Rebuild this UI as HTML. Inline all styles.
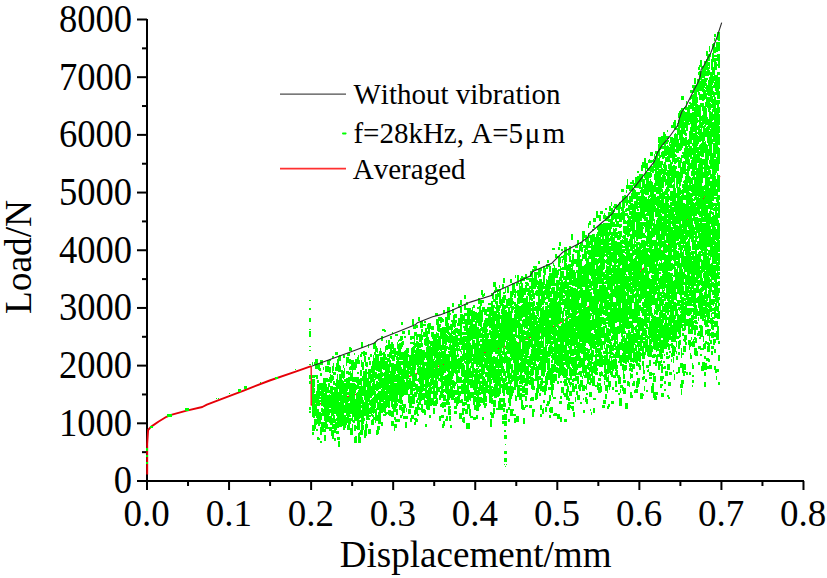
<!DOCTYPE html>
<html><head><meta charset="utf-8"><title>Load-Displacement</title>
<style>html,body{margin:0;padding:0;background:#fff;overflow:hidden}svg{display:block}text{font-family:"Liberation Serif",serif;fill:#000}</style></head>
<body>
<svg width="827" height="578" viewBox="0 0 827 578">
<rect width="827" height="578" fill="#fff"/>
<g fill="#000" shape-rendering="crispEdges">
<rect x="146" y="19" width="2" height="463"/>
<rect x="137" y="480" width="667" height="2"/>
</g><g fill="#000"><rect x="137" y="480.00" width="10" height="2"/><rect x="142" y="451.16" width="5" height="2"/><rect x="137" y="422.31" width="10" height="2"/><rect x="142" y="393.47" width="5" height="2"/><rect x="137" y="364.62" width="10" height="2"/><rect x="142" y="335.79" width="5" height="2"/><rect x="137" y="306.94" width="10" height="2"/><rect x="142" y="278.10" width="5" height="2"/><rect x="137" y="249.25" width="10" height="2"/><rect x="142" y="220.41" width="5" height="2"/><rect x="137" y="191.56" width="10" height="2"/><rect x="142" y="162.72" width="5" height="2"/><rect x="137" y="133.88" width="10" height="2"/><rect x="142" y="105.03" width="5" height="2"/><rect x="137" y="76.19" width="10" height="2"/><rect x="142" y="47.35" width="5" height="2"/><rect x="137" y="18.50" width="10" height="2"/></g><g fill="#000" shape-rendering="crispEdges"></g><g fill="#000"><rect x="146.00" y="481" width="2" height="9"/><rect x="187.03" y="481" width="2" height="5"/><rect x="228.06" y="481" width="2" height="9"/><rect x="269.09" y="481" width="2" height="5"/><rect x="310.12" y="481" width="2" height="9"/><rect x="351.15" y="481" width="2" height="5"/><rect x="392.18" y="481" width="2" height="9"/><rect x="433.21" y="481" width="2" height="5"/><rect x="474.24" y="481" width="2" height="9"/><rect x="515.27" y="481" width="2" height="5"/><rect x="556.30" y="481" width="2" height="9"/><rect x="597.33" y="481" width="2" height="5"/><rect x="638.36" y="481" width="2" height="9"/><rect x="679.39" y="481" width="2" height="5"/><rect x="720.42" y="481" width="2" height="9"/><rect x="761.45" y="481" width="2" height="5"/><rect x="802.48" y="481" width="2" height="9"/>
</g>
<polyline points="311.2,366.2 311.2,405.0 322.7,403.5 364.8,391.9 381.0,386.0 448.0,363.0 519.0,342.6 556.7,325.0 565.0,320.0 591.0,305.4 603.3,299.0 637.0,274.2 649.0,263.8 666.5,247.5 691.5,215.0 720.0,176.0" fill="none" stroke="#f01818" stroke-width="1.4" stroke-linejoin="round"/>
<polyline points="147.2,474.5 147.2,444.0 148.1,430.0 150.9,426.9 158.7,421.5 166.5,416.8 171.1,414.9 186.7,410.6 202.3,407.0 206.9,404.6 220.0,399.7 243.7,390.6 269.7,380.5 295.6,371.6 311.2,366.2" fill="none" stroke="#e60008" stroke-width="1.9" stroke-linejoin="round"/>
<g transform="translate(0.5,0)"><path d="M146 448v3M146 455v2M146 462v2M147 448v3M147 455v2M147 462v2M150 426v2M151 426v2M152 426v2M167 414v3M168 414v3M169 414v3M170 414v3M171 414v3M185 408v3M186 408v3M187 408v3M188 408v3M216 398v1M218 398v1M229 393v1M238 389v3M239 389v3M240 389v3M244 386v3M245 386v3M246 386v3M260 382v1M275 377v2M276 377v2M277 377v2M295 369v1M309 300v1M309 308v2M309 318v4M309 329v1M309 331v6M309 346v1M309 350v1M309 364v1M309 375v4M309 381v3M309 407v3M309 411v2M310 300v1M310 308v2M310 318v4M310 329v1M310 331v6M310 346v1M310 350v1M310 364v1M310 375v4M310 381v3M310 407v3M310 411v2M312 362v3M312 375v3M312 379v38M312 425v6M312 432v3M313 375v3M313 379v39M313 425v6M313 432v3M314 362v3M314 375v3M314 379v8M314 388v5M314 394v24M314 419v12M315 359v10M315 375v2M315 394v9M315 404v12M315 419v10M316 359v10M316 375v4M316 391v27M316 419v6M316 429v2M317 359v10M317 375v4M317 380v3M317 384v22M317 409v15M317 429v2M317 437v3M318 364v6M318 380v3M318 384v22M318 409v17M318 437v3M319 364v7M319 383v16M319 400v6M319 412v14M319 438v2M320 360v5M320 368v3M320 373v3M320 383v7M320 391v5M320 397v2M320 400v2M320 412v12M320 427v8M320 441v2M321 360v5M321 373v3M321 383v23M321 408v4M321 413v7M321 422v13M321 441v2M322 360v5M322 383v23M322 408v8M322 422v10M323 367v3M323 378v29M323 409v7M323 422v10M324 378v14M324 393v28M324 422v6M324 429v3M324 435v6M325 366v6M325 378v54M325 435v6M326 366v6M326 378v4M326 384v45M327 360v5M327 366v6M327 378v4M327 387v6M327 395v27M327 424v5M328 360v5M328 366v6M328 379v3M328 383v10M328 395v27M328 427v2M329 359v6M329 367v6M329 377v5M329 383v4M329 390v3M329 394v14M329 409v6M329 416v7M329 427v4M330 359v2M330 367v6M330 374v9M330 386v8M330 395v13M330 409v4M330 416v9M330 427v4M331 375v8M331 386v39M331 427v9M332 356v2M332 366v7M332 375v6M332 386v30M332 418v11M332 430v9M333 356v2M333 363v8M333 372v3M333 376v4M333 381v4M333 387v3M333 392v31M333 424v5M333 430v9M334 372v3M334 381v4M334 387v27M334 415v8M334 424v9M334 438v3M335 352v3M335 367v4M335 372v3M335 383v3M335 387v27M335 419v14M335 438v3M336 352v3M336 363v8M336 379v37M336 418v3M336 422v8M336 431v3M337 352v3M337 359v12M337 374v54M337 431v3M337 437v3M338 356v16M338 380v9M338 392v36M338 431v3M338 437v3M338 441v6M339 355v6M339 365v7M339 374v27M339 402v25M339 437v3M339 441v6M340 356v5M340 366v6M340 374v53M341 370v57M342 370v8M342 380v14M342 395v31M343 355v3M343 365v3M343 371v8M343 381v49M344 355v3M344 368v10M344 379v3M344 383v20M344 405v8M344 415v15M345 379v3M345 383v30M345 415v13M346 357v9M346 371v3M346 378v38M346 417v8M347 353v3M347 357v6M347 371v3M347 378v13M347 392v3M347 397v26M347 425v5M348 353v3M348 357v6M348 371v4M348 377v12M348 392v3M348 397v5M348 403v27M349 347v4M349 353v3M349 359v5M349 367v3M349 372v3M349 377v24M349 403v14M349 418v12M350 347v4M350 359v5M350 366v4M350 371v10M350 383v31M350 415v2M350 418v6M350 428v7M351 348v3M351 360v10M351 373v8M351 383v31M351 418v3M351 428v7M352 360v22M352 383v39M352 424v11M353 360v10M353 377v5M353 383v34M353 420v3M354 353v2M354 362v8M354 377v5M354 383v40M354 425v6M354 437v6M355 359v11M355 377v5M355 384v9M355 399v22M355 425v6M355 436v7M356 359v9M356 377v6M356 385v5M356 393v28M356 426v3M356 436v7M357 357v7M357 372v2M357 377v12M357 392v38M358 355v9M358 372v2M358 377v12M358 390v40M358 433v10M359 360v4M359 379v6M359 386v33M359 420v10M359 432v11M360 354v3M360 370v6M360 378v7M360 386v32M360 420v2M360 430v5M360 437v6M361 342v6M361 352v5M361 360v7M361 370v6M361 378v26M361 405v3M361 410v25M362 342v6M362 352v2M362 362v8M362 376v5M362 386v10M362 397v38M363 351v5M363 362v8M363 371v25M363 400v24M363 425v5M364 351v11M364 371v29M364 402v14M364 418v3M364 430v8M365 352v3M365 356v10M365 369v47M365 424v14M366 352v3M366 362v5M366 369v18M366 390v30M366 421v15M367 362v5M367 372v2M367 378v42M367 424v4M368 344v4M368 357v3M368 369v33M368 403v17M368 429v5M369 357v3M369 361v4M369 369v10M369 381v24M369 408v6M369 415v2M369 418v2M369 429v5M370 354v3M370 361v4M370 369v29M370 400v6M370 407v7M370 415v2M370 429v5M371 354v3M371 366v7M371 374v9M371 386v12M371 399v17M371 420v5M372 361v21M372 383v13M372 398v15M372 414v3M372 419v6M373 344v5M373 355v40M373 397v17M373 415v10M374 342v7M374 352v3M374 358v20M374 379v34M374 417v3M375 342v28M375 372v8M375 384v6M375 391v17M375 409v14M376 346v6M376 354v17M376 372v7M376 381v10M376 394v9M376 408v13M376 430v5M377 348v5M377 354v17M377 374v5M377 381v10M377 393v17M377 415v6M377 426v9M378 354v18M378 373v8M378 382v8M378 391v9M378 402v8M378 412v12M378 426v8M379 351v5M379 361v11M379 373v16M379 391v33M379 426v4M380 348v8M380 357v32M380 391v33M381 336v5M381 351v5M381 357v31M381 389v13M381 403v10M381 422v4M382 329v2M382 336v5M382 353v2M382 357v12M382 372v5M382 378v24M382 403v10M382 422v4M383 329v2M383 352v18M383 373v3M383 378v34M383 414v2M384 329v3M384 352v18M384 372v28M384 401v12M384 414v2M385 330v2M385 346v6M385 354v6M385 361v29M385 391v25M386 340v3M386 345v5M386 357v3M386 361v47M386 412v3M387 345v5M387 354v3M387 358v49M387 412v2M388 340v9M388 354v3M388 358v4M388 364v30M388 395v13M388 410v5M389 340v9M389 352v21M389 374v10M389 385v23M389 410v6M390 336v3M390 344v14M390 360v7M390 371v30M390 410v6M391 336v3M391 342v17M391 363v44M391 411v6M391 421v5M392 332v2M392 342v7M392 350v4M392 355v6M392 363v46M392 411v6M392 421v5M393 344v10M393 355v6M393 363v39M393 404v13M393 421v5M394 348v13M394 364v18M394 383v29M394 417v3M394 424v7M395 334v2M395 348v9M395 364v10M395 375v7M395 383v29M395 417v5M395 424v4M396 334v2M396 351v4M396 356v4M396 361v10M396 374v8M396 383v25M396 409v6M396 419v3M396 424v4M397 334v2M397 342v7M397 351v22M397 374v28M397 403v3M397 409v6M397 419v3M398 340v2M398 344v12M398 357v38M398 399v4M398 419v3M399 339v2M399 343v17M399 361v42M399 405v5M399 419v3M400 336v5M400 343v17M400 361v14M400 376v28M400 405v5M400 415v3M401 322v3M401 336v5M401 342v7M401 352v8M401 361v4M401 367v37M401 405v6M401 415v3M402 322v3M402 331v3M402 336v4M402 341v6M402 352v8M402 361v4M402 369v28M402 400v6M402 407v9M403 331v3M403 341v4M403 352v44M403 404v9M403 416v3M404 331v3M404 336v2M404 351v28M404 380v15M404 404v9M404 416v3M405 336v2M405 350v29M405 382v13M405 404v4M405 416v3M405 422v6M406 348v20M406 370v25M406 408v4M406 416v3M406 422v6M407 348v47M407 416v3M408 330v5M408 348v5M408 354v3M408 361v18M408 380v10M408 394v9M408 409v5M409 330v5M409 355v15M409 371v3M409 378v11M409 394v14M409 409v5M410 336v4M410 342v2M410 355v21M410 378v17M410 396v12M410 409v5M410 418v4M411 336v4M411 342v2M411 348v18M411 367v9M411 381v14M411 396v12M411 415v7M412 319v6M412 336v3M412 342v2M412 347v57M412 406v2M412 415v4M413 319v6M413 326v3M413 336v3M413 342v3M413 346v41M413 388v3M413 394v10M413 406v2M413 415v4M414 326v3M414 332v21M414 354v33M414 388v3M414 392v12M414 410v5M414 418v2M414 422v3M415 325v4M415 332v4M415 343v5M415 350v20M415 374v7M415 383v7M415 392v5M415 407v8M415 418v7M416 325v3M416 332v8M416 341v6M416 348v17M416 374v7M416 384v13M416 400v3M416 407v7M416 418v4M417 325v3M417 334v6M417 341v26M417 368v6M417 379v2M417 384v10M417 398v5M417 404v12M417 419v3M418 317v4M418 334v3M418 342v33M418 378v4M418 386v6M418 393v7M418 402v8M418 414v2M419 317v4M419 334v8M419 343v5M419 349v16M419 366v18M419 386v19M419 407v3M420 321v7M420 334v8M420 343v5M420 349v56M420 408v2M421 321v7M421 329v18M421 349v16M421 367v34M421 404v8M422 321v7M422 329v3M422 335v5M422 343v4M422 350v42M422 393v7M422 404v9M423 324v2M423 332v5M423 350v41M423 393v7M423 409v4M424 321v2M424 324v2M424 332v5M424 339v6M424 350v10M424 362v18M424 384v3M424 388v3M424 393v12M424 409v6M425 321v2M425 324v2M425 328v9M425 338v8M425 352v6M425 362v4M425 368v30M425 400v5M425 410v5M425 424v3M426 328v18M426 347v13M426 362v37M426 400v9M426 424v3M427 324v5M427 331v57M427 390v20M428 323v11M428 337v50M428 388v22M429 323v11M429 340v4M429 346v33M429 382v28M429 415v3M430 323v6M430 341v37M430 379v27M430 415v3M431 326v4M431 332v5M431 341v5M431 347v39M431 387v7M431 398v8M432 326v4M432 332v7M432 341v44M432 386v3M432 391v3M432 398v7M433 326v4M433 332v24M433 359v47M433 408v6M434 334v26M434 361v7M434 369v9M434 380v19M434 401v5M434 408v6M435 313v3M435 334v24M435 360v28M435 391v8M435 400v6M436 313v3M436 319v6M436 332v74M437 313v3M437 319v12M437 333v5M437 339v40M437 381v14M437 398v6M438 317v15M438 333v18M438 352v13M438 368v13M438 387v5M439 317v4M439 324v8M439 336v14M439 351v25M439 378v3M439 387v5M439 395v5M439 416v5M440 317v6M440 324v3M440 328v23M440 352v30M440 386v3M440 391v9M440 404v3M440 416v5M441 317v6M441 328v11M441 345v13M441 359v39M441 403v4M441 415v3M442 318v4M442 327v23M442 351v47M442 402v6M442 415v3M442 424v4M443 310v4M443 319v3M443 327v23M443 351v13M443 365v10M443 376v4M443 381v7M443 389v4M443 394v7M443 402v6M443 415v3M443 421v7M444 310v4M444 327v17M444 345v28M444 376v10M444 389v3M444 395v6M444 402v5M444 409v3M444 421v5M445 317v9M445 327v46M445 375v18M445 395v6M445 402v5M445 409v3M445 419v2M446 317v16M446 334v11M446 346v5M446 354v17M446 375v19M446 399v6M446 416v5M447 307v27M447 335v7M447 346v3M447 354v18M447 374v31M447 416v5M448 307v13M448 323v12M448 336v7M448 347v3M448 351v2M448 354v51M448 406v9M449 307v13M449 326v4M449 332v11M449 344v6M449 351v35M449 389v11M449 402v3M449 406v9M449 416v5M450 313v2M450 324v6M450 333v24M450 361v8M450 371v27M450 406v2M450 409v6M450 416v5M450 425v3M451 320v2M451 324v19M451 345v40M451 386v14M451 425v3M452 303v4M452 309v4M452 320v10M452 331v3M452 335v44M452 380v20M453 303v4M453 309v4M453 315v12M453 330v5M453 336v40M453 380v8M453 390v10M454 314v14M454 329v6M454 336v37M454 381v8M454 390v7M454 398v5M454 406v3M454 411v3M455 314v4M455 320v7M455 328v19M455 348v26M455 382v4M455 390v5M455 397v6M455 406v3M455 411v3M456 314v4M456 320v3M456 328v5M456 335v16M456 355v29M456 390v5M456 397v12M456 411v3M457 323v3M457 328v6M457 335v22M457 359v10M457 370v13M457 384v11M457 396v10M458 304v4M458 318v8M458 329v7M458 338v3M458 342v5M458 348v3M458 354v3M458 358v15M458 376v7M458 386v18M459 304v4M459 318v8M459 329v7M459 338v7M459 346v5M459 358v15M459 377v6M459 386v3M459 391v12M459 413v6M460 300v5M460 307v6M460 314v31M460 349v3M460 356v13M460 377v6M460 386v3M460 391v5M460 400v3M460 413v6M461 300v5M461 307v6M461 314v31M461 346v4M461 351v3M461 356v20M461 377v6M461 384v10M461 399v4M461 413v6M462 314v10M462 332v3M462 337v13M462 354v8M462 363v14M462 380v3M462 384v10M462 399v7M462 408v7M462 418v4M463 315v6M463 322v2M463 326v2M463 332v3M463 336v25M463 363v14M463 379v15M463 402v4M463 408v7M463 417v6M464 295v4M464 304v6M464 313v11M464 326v5M464 332v3M464 336v27M464 365v36M464 402v4M464 408v3M464 417v6M465 295v4M465 304v6M465 313v3M465 319v12M465 332v3M465 336v6M465 343v7M465 353v7M465 361v3M465 370v31M465 402v3M465 409v5M466 302v3M466 308v2M466 313v3M466 319v16M466 336v47M466 385v9M466 396v9M466 409v5M466 423v6M467 302v3M467 308v94M467 404v10M467 423v6M468 308v17M468 328v74M468 404v5M468 423v6M469 308v17M469 326v38M469 368v10M469 379v6M469 390v10M469 404v12M469 423v6M470 308v8M470 319v22M470 343v20M470 366v12M470 379v9M470 392v9M470 409v9M471 310v30M471 345v23M471 371v7M471 379v9M471 392v6M471 416v2M472 307v50M472 358v3M472 362v26M472 392v6M472 416v2M473 305v3M473 311v11M473 324v15M473 340v9M473 354v23M473 380v10M473 392v13M473 417v3M474 305v3M474 311v11M474 324v15M474 340v24M474 368v5M474 374v21M474 396v14M474 417v3M475 312v8M475 321v18M475 343v21M475 369v26M475 396v6M475 405v5M475 417v3M476 312v55M476 368v28M476 397v14M476 415v4M477 307v2M477 313v10M477 327v40M477 368v21M477 390v21M477 415v4M478 298v6M478 307v2M478 312v14M478 327v38M478 366v3M478 370v3M478 374v10M478 387v24M479 298v6M479 306v20M479 329v9M479 341v5M479 348v19M479 369v26M479 397v10M480 300v27M480 328v10M480 339v3M480 344v23M480 369v3M480 373v6M480 381v10M480 392v3M480 397v6M480 404v2M481 290v5M481 300v6M481 310v21M481 333v5M481 339v3M481 344v35M481 381v3M481 385v9M481 397v6M482 290v7M482 300v3M482 307v15M482 327v67M482 398v5M482 417v3M483 294v3M483 300v3M483 307v5M483 323v10M483 334v28M483 364v11M483 376v29M483 417v3M484 293v3M484 307v8M484 320v18M484 339v13M484 353v3M484 357v17M484 377v9M484 387v21M485 309v6M485 318v34M485 353v4M485 358v10M485 372v5M485 379v23M485 403v5M486 309v7M486 318v52M486 372v5M486 381v12M486 396v6M486 403v3M487 307v5M487 314v2M487 318v9M487 329v3M487 333v38M487 372v21M488 303v2M488 307v5M488 314v12M488 333v5M488 339v25M488 365v17M488 385v3M488 389v5M489 303v2M489 307v21M489 330v5M489 339v64M490 303v2M490 307v21M490 330v8M490 339v64M490 412v3M490 419v8M491 293v3M491 301v15M491 317v13M491 331v47M491 379v5M491 386v18M491 412v6M491 419v8M492 293v6M492 301v53M492 357v23M492 386v2M492 389v8M492 398v6M492 413v5M493 282v5M493 293v9M493 305v47M493 356v27M493 387v9M493 400v7M493 408v10M494 282v5M494 290v3M494 299v3M494 305v3M494 311v41M494 356v8M494 366v17M494 384v14M494 400v7M494 408v6M495 282v11M495 294v10M495 307v2M495 311v10M495 324v30M495 357v41M495 400v7M496 287v4M496 294v6M496 301v38M496 340v14M496 357v11M496 369v29M496 408v2M497 289v11M497 301v12M497 314v24M497 340v14M497 355v13M497 369v28M497 408v2M498 289v3M498 293v4M498 305v24M498 330v18M498 349v7M498 359v27M498 388v9M498 401v9M499 285v3M499 289v15M499 305v6M499 312v20M499 333v35M499 369v27M499 398v12M500 289v19M500 315v4M500 323v45M500 369v7M500 377v17M500 398v12M501 299v7M501 309v5M501 315v38M501 354v27M501 384v4M501 398v4M501 404v6M502 284v4M502 297v51M502 351v4M502 356v17M502 376v7M502 384v9M502 398v4M502 404v6M502 415v5M502 421v3M503 278v5M503 284v4M503 292v2M503 295v8M503 304v51M503 357v6M503 366v10M503 378v18M503 398v9M503 408v4M503 415v5M503 421v3M504 278v5M504 292v2M504 295v8M504 305v41M504 348v16M504 369v7M504 378v18M504 398v9M504 408v4M504 414v6M504 421v5M504 430v2M504 435v4M504 451v3M504 458v4M504 464v1M505 288v5M505 295v5M505 305v4M505 310v32M505 346v3M505 352v11M505 371v11M505 383v7M505 403v4M505 414v6M505 421v5M505 430v2M505 435v4M505 444v1M505 451v3M505 458v4M505 466v1M506 299v9M506 310v30M506 341v9M506 351v22M506 376v5M506 382v12M506 409v4M506 414v6M506 421v5M506 435v4M506 451v3M506 458v4M506 464v1M507 287v6M507 299v9M507 312v42M507 356v22M507 382v13M507 409v4M508 287v6M508 298v8M508 307v34M508 342v12M508 357v27M508 386v9M508 398v5M508 407v3M508 419v3M509 298v8M509 307v47M509 357v27M509 386v20M509 407v3M509 419v3M510 279v4M510 291v17M510 311v46M510 358v11M510 373v6M510 380v26M510 409v7M511 279v4M511 291v70M511 364v20M511 386v13M511 409v7M512 283v14M512 298v7M512 306v7M512 318v42M512 364v9M512 375v7M512 386v10M512 409v7M513 283v12M513 301v3M513 306v4M513 318v14M513 334v29M513 370v11M513 387v6M513 409v2M513 414v2M514 283v10M514 294v4M514 302v4M514 307v2M514 310v3M514 314v18M514 334v56M514 414v2M514 418v5M515 275v3M515 289v9M515 302v35M515 338v52M515 395v6M515 414v2M515 418v5M516 283v3M516 291v2M516 304v34M516 341v46M516 396v5M516 416v6M517 275v6M517 282v4M517 290v6M517 298v21M517 320v8M517 335v3M517 342v33M517 376v21M517 416v6M518 275v6M518 282v2M518 290v14M518 305v34M518 343v32M518 376v5M518 385v12M518 416v6M519 283v21M519 306v54M519 363v9M519 375v5M519 381v3M519 385v15M520 278v6M520 286v17M520 306v15M520 323v11M520 335v26M520 362v22M520 385v2M520 388v3M520 393v7M521 276v27M521 305v16M521 324v18M521 349v35M521 385v2M521 388v3M521 393v16M522 276v5M522 283v20M522 304v14M522 320v53M522 375v10M522 386v7M522 394v3M522 400v10M523 277v4M523 288v9M523 298v19M523 319v8M523 330v27M523 358v14M523 375v8M523 386v7M523 394v3M523 405v5M523 418v6M524 277v4M524 288v7M524 298v19M524 319v10M524 330v5M524 336v18M524 355v19M524 375v8M524 384v9M524 394v3M524 407v3M524 418v6M525 274v5M525 282v2M525 285v10M525 298v30M525 331v4M525 336v4M525 341v34M525 378v8M525 388v7M525 396v5M525 405v3M526 274v6M526 282v10M526 296v33M526 331v8M526 341v23M526 366v20M526 388v7M526 396v5M526 405v2M527 278v2M527 282v4M527 288v4M527 293v2M527 296v33M527 330v10M527 341v17M527 359v6M527 366v20M527 388v7M527 405v2M528 278v2M528 283v3M528 288v8M528 302v13M528 316v10M528 328v27M528 356v2M528 359v25M529 278v4M529 286v45M529 332v5M529 338v11M529 356v11M529 371v4M529 376v3M529 380v5M529 405v3M530 271v6M530 278v4M530 286v3M530 290v10M530 302v35M530 339v8M530 354v14M530 369v16M530 398v3M530 405v3M531 271v6M531 278v15M531 294v7M531 302v5M531 308v3M531 313v35M531 349v16M531 366v10M531 377v12M531 397v4M531 405v3M532 269v28M532 298v3M532 302v18M532 321v44M532 366v10M532 377v13M532 397v4M532 409v8M533 266v2M533 269v3M533 278v11M533 290v9M533 301v40M533 344v17M533 362v13M533 378v12M533 397v4M533 409v8M534 266v4M534 272v17M534 293v6M534 301v5M534 307v4M534 312v58M534 379v2M534 386v4M534 409v3M535 266v4M535 272v17M535 291v4M535 306v5M535 315v10M535 326v40M535 367v14M535 393v7M536 266v4M536 272v15M536 290v6M536 302v3M536 306v8M536 315v32M536 348v13M536 364v17M536 388v12M537 272v3M537 280v5M537 286v3M537 290v6M537 302v14M537 317v2M537 321v41M537 366v33M538 261v3M538 269v9M538 281v36M538 318v5M538 324v38M538 364v11M538 376v17M539 261v3M539 269v8M539 279v32M539 317v23M539 341v20M539 362v8M539 376v4M539 384v5M539 393v3M540 268v9M540 279v17M540 299v34M540 336v3M540 341v14M540 356v14M540 376v4M540 381v10M540 393v3M540 405v5M540 414v3M541 268v3M541 279v28M541 308v40M541 349v6M541 356v20M541 378v13M541 405v5M541 414v3M542 282v23M542 307v32M542 341v7M542 349v27M542 378v7M542 386v6M542 409v5M543 266v7M543 275v14M543 291v14M543 306v71M543 381v2M543 386v6M543 400v3M543 408v6M544 266v19M544 286v3M544 290v13M544 310v16M544 327v10M544 347v29M544 381v2M544 385v10M544 400v3M545 268v7M545 284v11M545 297v3M545 302v3M545 306v66M545 376v19M545 407v5M546 264v5M546 279v20M546 302v3M546 306v38M546 345v18M546 373v18M546 404v2M546 407v5M547 260v3M547 264v5M547 280v19M547 302v44M547 351v19M547 371v14M547 401v5M548 260v3M548 264v3M548 276v26M548 305v3M548 309v35M548 347v10M548 358v22M548 387v3M548 401v5M549 264v8M549 273v29M549 303v15M549 320v24M549 345v12M549 358v22M549 387v3M549 395v9M549 408v4M549 415v3M550 266v6M550 273v16M550 291v6M550 298v20M550 320v36M550 368v17M550 387v3M550 395v6M550 407v6M550 415v3M551 273v13M551 288v9M551 298v36M551 335v5M551 341v13M551 355v3M551 360v3M551 364v31M551 407v6M552 248v2M552 268v18M552 287v7M552 298v37M552 336v4M552 341v4M552 346v17M552 364v33M552 407v6M553 248v2M553 263v3M553 268v18M553 287v38M553 327v17M553 347v5M553 353v7M553 364v9M553 374v9M553 384v6M553 397v2M553 414v2M554 248v2M554 265v21M554 287v85M554 374v9M554 397v2M554 413v3M555 254v4M555 268v10M555 283v3M555 291v73M555 365v7M555 374v7M555 397v2M555 413v3M556 254v4M556 268v10M556 280v47M556 328v8M556 338v27M556 367v6M556 374v7M556 413v3M557 256v2M557 270v8M557 280v20M557 302v26M557 330v24M557 355v11M557 367v6M557 381v3M557 414v5M558 247v3M558 256v11M558 269v6M558 280v11M558 292v6M558 301v23M558 325v17M558 344v22M558 368v10M558 381v3M558 414v5M559 242v4M559 247v3M559 256v11M559 269v2M559 277v8M559 287v37M559 326v16M559 344v34M559 401v3M559 414v5M560 242v4M560 257v6M560 266v15M560 282v40M560 326v50M560 381v2M560 396v3M560 401v3M560 417v5M561 249v2M561 256v2M561 268v2M561 271v30M561 302v3M561 307v7M561 318v4M561 324v51M561 381v2M561 387v6M561 396v3M561 401v3M561 417v5M562 249v2M562 256v2M562 259v4M562 267v3M562 271v7M562 280v25M562 311v65M562 387v6M563 255v5M563 267v3M563 271v9M563 282v11M563 295v3M563 299v6M563 308v9M563 318v35M563 354v7M563 362v16M563 381v2M563 387v8M564 247v23M564 276v4M564 281v13M564 295v3M564 299v12M564 323v19M564 345v16M564 362v3M564 367v11M564 379v7M564 393v4M564 419v3M565 247v23M565 276v13M565 290v6M565 298v11M565 310v6M565 318v47M565 368v10M565 379v7M565 393v4M565 419v3M566 247v15M566 263v26M566 290v19M566 310v57M566 369v17M566 389v11M566 419v3M567 253v2M567 265v15M567 282v33M567 316v30M567 350v26M567 377v3M567 383v17M567 404v6M568 249v7M568 264v7M568 272v8M568 282v36M568 321v27M568 350v19M568 378v5M568 386v6M568 396v5M568 402v8M569 246v16M569 264v21M569 286v2M569 289v29M569 319v19M569 339v6M569 346v8M569 356v20M569 378v7M569 391v5M569 398v3M569 402v8M570 246v9M570 256v6M570 264v21M570 286v11M570 299v11M570 313v5M570 319v45M570 367v13M570 382v5M570 391v5M570 402v2M570 405v3M571 234v6M571 260v7M571 268v17M571 287v25M571 313v43M571 357v9M571 368v12M571 382v3M571 391v5M571 402v2M571 406v3M572 234v6M572 254v25M572 280v6M572 287v59M572 349v7M572 357v11M572 369v7M572 379v3M572 383v9M572 402v2M572 406v5M573 249v3M573 254v12M573 270v16M573 288v58M573 349v7M573 357v19M573 378v4M573 383v9M573 402v2M573 406v5M573 412v5M574 249v3M574 259v5M574 270v16M574 288v39M574 328v27M574 357v19M574 378v3M574 386v6M574 412v5M575 245v3M575 250v3M575 259v5M575 272v15M575 288v57M575 346v9M575 356v25M575 384v5M575 397v5M576 245v3M576 250v3M576 259v8M576 270v3M576 278v9M576 289v26M576 316v15M576 332v16M576 349v26M576 376v5M576 384v5M576 391v4M577 240v8M577 250v17M577 270v40M577 311v2M577 316v45M577 364v6M577 373v2M577 376v8M577 391v9M578 240v5M578 250v39M578 291v22M578 315v24M578 342v19M578 362v6M578 372v3M578 376v8M578 385v4M578 395v5M579 245v44M579 290v10M579 303v65M579 371v4M579 384v7M579 395v5M580 242v9M580 255v2M580 259v39M580 303v39M580 343v10M580 356v12M580 371v6M580 380v11M580 402v2M581 242v10M581 259v83M581 343v11M581 358v9M581 371v6M581 380v7M581 402v2M582 231v10M582 242v4M582 247v5M582 254v7M582 266v8M582 275v12M582 288v20M582 309v45M582 358v15M582 376v3M582 380v11M583 231v10M583 245v3M583 254v5M583 266v21M583 290v86M583 385v6M583 398v2M583 410v3M584 231v7M584 245v3M584 249v10M584 265v22M584 290v83M584 375v3M584 385v6M584 410v3M585 235v3M585 239v3M585 245v16M585 264v82M585 347v14M585 365v13M585 386v3M585 397v5M586 235v3M586 239v11M586 251v55M586 307v36M586 348v3M586 352v8M586 365v13M586 384v6M586 393v2M586 397v7M587 237v17M587 258v44M587 307v36M587 348v13M587 363v6M587 372v12M587 393v2M587 399v5M588 223v5M588 233v15M588 250v5M588 256v28M588 285v17M588 307v37M588 349v21M588 372v12M589 221v4M589 235v3M589 241v7M589 250v9M589 262v13M589 279v9M589 289v57M589 349v4M589 354v12M589 367v13M589 382v3M589 392v5M590 221v4M590 235v10M590 246v2M590 250v9M590 262v14M590 279v9M590 289v2M590 292v19M590 313v6M590 320v30M590 353v7M590 361v11M590 374v11M590 392v5M590 409v2M591 235v44M591 281v9M591 292v20M591 313v3M591 320v11M591 333v43M591 378v5M591 392v5M591 412v3M592 229v2M592 234v52M592 288v2M592 296v18M592 315v15M592 333v15M592 350v11M592 362v2M592 366v20M593 218v4M593 225v3M593 229v2M593 234v8M593 245v49M593 296v34M593 334v15M593 350v7M593 362v11M593 376v10M593 398v2M593 408v5M594 218v4M594 225v3M594 234v81M594 319v14M594 334v15M594 355v2M594 361v13M594 376v10M594 398v2M594 408v5M595 218v4M595 237v20M595 258v7M595 269v71M595 341v12M595 354v21M595 385v2M595 398v2M596 211v7M596 234v23M596 258v18M596 277v51M596 329v16M596 346v29M596 385v2M597 211v7M597 226v4M597 232v25M597 259v29M597 289v58M597 348v5M597 354v3M597 359v7M597 368v3M597 372v3M597 382v8M598 215v3M598 226v31M598 258v6M598 266v18M598 289v15M598 308v39M598 348v9M598 359v7M598 378v3M598 383v10M599 215v6M599 224v12M599 237v26M599 265v19M599 285v16M599 304v42M599 348v19M599 372v4M599 378v3M599 383v3M599 387v6M600 211v3M600 215v6M600 224v60M600 285v31M600 317v50M600 372v5M600 378v3M600 383v10M601 211v3M601 224v13M601 239v6M601 246v38M601 285v31M601 317v9M601 327v11M601 339v11M601 352v15M601 371v5M601 386v6M602 211v3M602 224v21M602 246v31M602 278v36M602 317v7M602 327v11M602 341v9M602 355v12M602 372v4M602 405v3M603 215v4M603 223v47M603 272v31M603 306v9M603 317v8M603 326v12M603 341v4M603 351v3M603 356v2M603 359v6M603 375v2M603 400v4M603 405v3M604 213v6M604 223v13M604 239v18M604 259v10M604 272v8M604 282v2M604 285v24M604 310v5M604 318v7M604 326v23M604 351v3M604 355v18M604 374v6M604 381v4M604 400v4M604 405v3M605 208v2M605 215v6M605 223v30M605 254v2M605 260v3M605 270v3M605 274v6M605 281v3M605 285v31M605 318v10M605 333v11M605 348v6M605 355v25M605 385v6M605 394v5M605 400v4M606 208v2M606 216v5M606 223v34M606 259v5M606 265v19M606 287v29M606 317v4M606 322v2M606 325v17M606 344v21M606 369v13M606 385v6M606 394v5M607 216v5M607 223v42M607 266v33M607 300v21M607 322v2M607 328v15M607 344v30M607 377v5M607 385v8M607 406v3M608 212v10M608 223v7M608 232v23M608 256v9M608 266v24M608 292v7M608 300v10M608 312v15M608 328v15M608 344v4M608 352v2M608 359v15M608 375v12M608 404v5M609 206v5M609 212v6M609 219v3M609 223v13M609 238v4M609 243v2M609 246v29M609 276v14M609 294v7M609 302v8M609 312v15M609 329v7M609 337v7M609 345v9M609 355v18M609 381v9M609 404v3M610 206v5M610 212v4M610 219v16M610 236v5M610 243v2M610 246v29M610 276v16M610 293v43M610 339v19M610 361v14M610 381v6M611 202v4M611 208v21M611 232v19M611 252v14M611 268v65M611 336v5M611 342v13M611 356v14M611 371v6M611 401v3M612 208v5M612 214v13M612 232v19M612 252v10M612 265v8M612 274v33M612 308v26M612 335v6M612 345v6M612 352v3M612 356v2M612 360v17M612 387v3M612 401v3M613 206v2M613 210v10M613 222v5M613 228v8M613 237v26M613 265v21M613 289v8M613 302v38M613 343v8M613 353v5M613 359v12M613 375v3M613 387v3M613 401v3M614 204v4M614 210v2M614 213v6M614 222v5M614 229v68M614 302v45M614 348v2M614 354v4M614 359v10M614 375v3M615 204v4M615 213v9M615 224v3M615 228v10M615 241v43M615 286v12M615 302v21M615 327v23M615 352v19M615 372v6M615 381v6M615 390v2M616 204v6M616 213v14M616 228v3M616 232v6M616 241v23M616 265v2M616 268v55M616 327v13M616 341v3M616 346v12M616 359v17M616 381v6M616 390v2M617 205v5M617 213v6M617 221v6M617 232v8M617 242v13M617 259v4M617 265v41M617 308v14M617 326v32M617 365v4M617 370v8M617 390v2M618 204v15M618 221v6M618 231v3M618 235v5M618 242v15M618 258v26M618 285v37M618 326v8M618 344v14M618 361v2M618 375v9M618 393v2M619 202v20M619 224v4M619 231v9M619 242v42M619 285v49M619 342v21M619 375v9M619 393v2M619 398v8M620 203v6M620 213v9M620 224v4M620 231v8M620 240v26M620 268v65M620 342v8M620 355v11M620 377v7M620 385v3M620 389v4M620 398v8M621 189v3M621 207v4M621 212v10M621 224v3M621 231v6M621 240v25M621 268v35M621 308v15M621 324v13M621 339v11M621 355v11M621 385v3M621 398v8M622 189v3M622 196v24M622 236v2M622 239v5M622 245v3M622 249v102M622 353v9M622 364v6M622 385v6M623 189v3M623 196v28M623 226v7M623 235v4M623 240v4M623 246v2M623 249v4M623 254v80M623 336v6M623 343v20M623 364v15M623 380v3M623 387v7M624 195v13M624 211v13M624 226v8M624 235v10M624 246v2M624 249v4M624 255v79M624 335v28M624 365v6M624 374v5M624 380v3M624 388v6M625 195v8M625 209v3M625 213v3M625 220v4M625 226v25M625 252v2M625 256v19M625 276v13M625 291v37M625 331v3M625 338v26M625 365v6M625 380v3M625 388v6M625 403v6M626 185v4M626 190v3M626 196v10M626 208v4M626 213v3M626 221v3M626 226v9M626 238v34M626 274v17M626 292v4M626 299v30M626 333v21M626 355v9M626 365v5M626 403v6M627 179v10M627 196v9M627 208v3M627 213v5M627 220v17M627 238v34M627 276v53M627 333v6M627 341v13M627 355v7M627 381v5M627 403v6M628 185v4M628 200v3M628 205v6M628 215v22M628 241v20M628 264v11M628 276v29M628 306v9M628 317v12M628 330v33M628 381v5M629 185v6M629 196v8M629 205v10M629 216v11M629 228v8M629 239v8M629 249v13M629 263v19M629 283v9M629 295v24M629 321v8M629 330v30M629 363v4M629 368v3M629 382v5M630 182v2M630 185v6M630 196v14M630 211v4M630 216v16M630 234v17M630 253v41M630 295v24M630 321v7M630 332v30M630 363v8M630 373v6M630 392v6M631 182v2M631 185v5M631 193v9M631 203v7M631 211v8M631 220v11M631 234v17M631 253v28M631 282v3M631 286v8M631 295v24M631 321v12M631 334v28M631 363v4M631 368v4M631 374v4M631 392v6M632 180v4M632 185v17M632 203v68M632 272v3M632 276v27M632 309v24M632 334v19M632 358v4M632 364v8M632 374v4M632 383v3M632 395v3M633 180v6M633 189v10M633 204v35M633 244v5M633 250v6M633 259v29M633 289v14M633 309v14M633 325v38M633 364v5M633 381v5M634 183v5M634 189v10M634 201v54M634 258v34M634 294v4M634 302v21M634 327v3M634 333v12M634 348v14M634 364v5M634 381v5M634 390v3M635 177v11M635 190v9M635 201v21M635 230v7M635 241v2M635 244v3M635 249v6M635 256v35M635 293v30M635 326v6M635 333v10M635 344v7M635 352v11M635 389v4M636 177v11M636 192v17M636 212v29M636 242v81M636 325v18M636 345v21M636 372v3M636 381v7M636 389v4M637 171v2M637 176v12M637 192v19M637 212v29M637 242v17M637 261v26M637 288v9M637 299v28M637 329v18M637 351v15M637 372v3M637 378v10M637 389v4M638 171v2M638 176v12M638 192v3M638 196v5M638 202v3M638 206v2M638 209v2M638 212v27M638 242v3M638 247v69M638 317v23M638 341v20M638 363v4M638 378v9M639 174v15M639 192v3M639 196v12M639 212v27M639 242v38M639 281v10M639 294v9M639 305v11M639 317v23M639 341v6M639 348v14M639 363v7M639 378v6M640 174v15M640 190v3M640 196v25M640 222v17M640 243v27M640 272v31M640 305v6M640 317v14M640 335v16M640 352v10M640 365v5M640 393v6M641 165v6M641 174v8M641 187v34M641 222v17M641 240v9M641 250v51M641 307v6M641 318v13M641 333v18M641 353v3M641 393v6M642 162v9M642 174v44M642 222v16M642 240v8M642 249v16M642 270v29M642 302v4M642 307v9M642 318v25M642 346v13M642 361v5M642 377v3M642 393v6M643 162v6M643 179v9M643 189v30M643 222v4M643 227v2M643 233v5M643 240v24M643 269v30M643 302v14M643 319v17M643 337v3M643 341v18M643 361v13M643 376v4M643 394v2M644 158v10M644 174v4M644 179v15M644 196v25M644 222v5M644 233v5M644 240v33M644 275v23M644 299v9M644 309v17M644 328v8M644 337v3M644 341v7M644 352v7M644 370v4M644 376v3M644 386v5M645 158v22M645 184v11M645 197v15M645 214v7M645 222v11M645 235v3M645 241v67M645 309v18M645 328v27M645 379v3M646 163v6M646 172v23M646 197v15M646 213v3M646 217v15M646 236v10M646 248v81M646 330v8M646 339v13M646 365v3M646 379v3M646 390v2M647 163v8M647 172v23M647 199v17M647 217v30M647 248v19M647 268v21M647 291v21M647 313v3M647 317v6M647 324v5M647 335v21M647 365v3M647 370v2M647 390v2M648 160v3M648 168v3M648 172v23M648 196v20M648 220v24M648 245v2M648 248v4M648 254v13M648 271v18M648 291v25M648 317v6M648 327v8M648 336v3M648 345v12M648 365v3M648 369v3M649 159v4M649 168v3M649 172v6M649 181v11M649 195v3M649 199v54M649 255v19M649 278v79M649 360v6M649 372v4M649 377v2M650 152v4M650 160v3M650 166v12M650 179v18M650 198v31M650 231v42M650 279v37M650 321v17M650 339v18M650 360v6M650 372v4M650 377v2M651 152v4M651 160v3M651 166v6M651 173v4M651 181v92M651 275v3M651 279v27M651 307v11M651 319v25M651 345v12M651 372v4M651 377v2M651 386v7M652 152v4M652 160v2M652 166v7M652 182v44M652 228v10M652 240v8M652 249v25M652 275v19M652 295v10M652 313v29M652 346v6M652 355v3M652 373v2M652 383v10M653 159v14M653 185v36M653 223v14M653 240v6M653 249v25M653 275v30M653 315v34M653 354v4M653 362v2M653 373v9M653 383v15M654 154v5M654 161v7M654 169v2M654 174v6M654 183v9M654 194v18M654 219v18M654 240v65M654 309v6M654 316v34M654 354v4M654 362v2M654 373v2M654 376v6M654 392v8M655 151v3M655 156v36M655 194v11M655 206v11M655 224v11M655 240v22M655 264v21M655 286v9M655 298v11M655 310v4M655 316v34M655 354v3M655 360v6M655 376v6M655 392v8M656 151v35M656 187v7M656 197v9M656 208v9M656 220v74M656 298v17M656 317v35M656 355v11M656 392v3M656 396v4M657 151v19M657 171v15M657 187v7M657 196v21M657 218v22M657 242v24M657 268v13M657 283v8M657 292v23M657 317v16M657 334v17M657 354v9M657 392v3M658 137v6M658 144v12M658 158v36M658 196v50M658 248v13M658 264v20M658 285v16M658 304v8M658 317v11M658 329v12M658 342v9M658 354v3M658 361v9M659 137v31M659 169v39M659 209v51M659 262v9M659 272v2M659 278v33M659 312v36M659 349v8M659 361v9M660 137v13M660 155v3M660 161v7M660 169v30M660 200v31M660 234v27M660 263v8M660 272v2M660 276v13M660 292v4M660 297v62M660 361v5M660 376v5M660 384v4M661 136v13M661 152v5M661 161v14M661 177v15M661 193v20M661 214v34M661 250v21M661 276v13M661 292v14M661 310v8M661 319v19M661 340v19M661 360v3M661 364v9M661 376v5M661 384v4M661 393v4M662 136v9M662 146v3M662 151v8M662 161v4M662 168v6M662 175v13M662 189v25M662 216v5M662 222v18M662 241v6M662 251v9M662 263v10M662 274v20M662 295v3M662 299v39M662 340v13M662 354v5M662 364v9M662 376v5M662 384v2M662 393v4M663 132v13M663 146v3M663 151v8M663 164v4M663 169v19M663 192v22M663 216v24M663 241v19M663 262v27M663 290v8M663 299v6M663 306v6M663 313v10M663 325v28M663 361v2M663 367v2M663 376v3M663 393v4M664 132v26M664 162v20M664 191v8M664 203v88M664 292v9M664 304v8M664 313v7M664 323v26M664 354v2M664 361v2M664 366v3M664 381v3M664 389v2M665 134v22M665 157v18M665 176v10M665 189v6M665 196v40M665 240v13M665 254v34M665 293v8M665 302v47M665 366v3M665 371v5M665 381v3M665 389v2M666 136v3M666 141v3M666 146v10M666 157v5M666 165v6M666 172v4M666 179v6M666 187v8M666 196v47M666 244v9M666 255v28M666 284v15M666 302v11M666 315v34M666 352v3M666 356v3M666 371v5M667 130v2M667 136v3M667 140v4M667 145v10M667 156v6M667 170v43M667 214v4M667 219v5M667 225v7M667 233v10M667 245v7M667 255v46M667 302v13M667 317v3M667 323v24M667 352v3M667 356v3M667 364v6M667 371v5M667 395v2M668 136v3M668 140v2M668 146v16M668 164v5M668 170v22M668 194v8M668 203v41M668 245v26M668 272v43M668 317v25M668 343v7M668 356v3M668 364v6M668 382v4M668 395v4M669 142v4M669 147v15M669 164v24M669 189v2M669 196v4M669 205v3M669 209v62M669 272v37M669 310v2M669 315v11M669 327v13M669 344v6M669 351v2M669 355v3M669 364v6M669 372v3M669 382v4M669 397v2M670 137v6M670 144v14M670 160v16M670 177v11M670 191v10M670 202v69M670 273v21M670 295v4M670 300v40M670 344v2M670 351v2M670 372v3M670 382v4M671 125v3M671 137v21M671 162v26M671 191v10M671 202v18M671 221v3M671 227v34M671 263v8M671 273v62M671 336v6M671 343v5M671 353v4M671 359v3M671 372v3M672 125v3M672 137v27M672 166v17M672 185v3M672 191v15M672 207v19M672 227v21M672 249v3M672 255v5M672 263v7M672 273v3M672 277v27M672 305v18M672 325v17M672 343v14M673 122v6M673 138v24M673 165v17M673 184v22M673 207v22M673 230v31M673 264v5M673 275v2M673 281v61M673 345v11M673 357v6M673 370v2M674 120v9M674 134v30M674 165v47M674 214v63M674 280v20M674 302v9M674 315v27M674 346v10M674 374v6M675 120v10M675 133v14M675 149v3M675 154v3M675 158v6M675 166v12M675 188v27M675 216v50M675 267v33M675 302v17M675 320v22M675 347v5M676 128v2M676 134v19M676 155v2M676 158v5M676 166v3M676 171v17M676 193v5M676 201v23M676 225v16M676 243v6M676 250v10M676 261v5M676 269v20M676 292v9M676 303v13M676 320v19M676 341v6M676 351v3M676 356v4M676 372v2M677 123v4M677 128v25M677 157v5M677 171v53M677 225v16M677 242v3M677 251v9M677 261v33M677 300v6M677 309v23M677 336v3M677 356v4M677 372v2M678 113v5M678 120v3M678 125v10M678 139v14M678 157v11M678 171v13M678 187v37M678 226v15M678 242v5M678 248v2M678 251v17M678 272v22M678 300v6M678 307v3M678 314v20M678 336v3M678 341v8M678 352v3M678 367v6M679 111v29M679 143v8M679 157v2M679 160v8M679 172v67M679 241v9M679 253v42M679 300v6M679 307v4M679 315v23M679 340v9M679 352v3M679 367v6M680 110v18M680 130v21M680 158v28M680 188v7M680 196v62M680 263v36M680 300v3M680 304v6M680 311v2M680 314v23M680 340v5M680 363v5M680 384v4M681 96v4M681 108v42M681 155v8M681 167v15M681 190v4M681 195v26M681 224v20M681 245v83M681 348v10M681 363v5M681 380v8M681 389v6M682 96v4M682 108v40M682 152v2M682 155v3M682 162v16M682 184v4M682 189v39M682 229v15M682 245v5M682 252v15M682 269v26M682 297v26M682 324v7M682 333v3M682 353v2M682 363v10M682 380v8M683 96v4M683 108v26M683 137v9M683 152v6M683 161v13M683 181v2M683 184v16M683 203v45M683 250v19M683 272v13M683 286v9M683 297v26M683 324v2M683 328v3M683 333v3M683 339v2M683 346v6M683 353v2M683 364v12M683 380v4M684 107v2M684 111v10M684 122v13M684 138v8M684 148v11M684 161v13M684 180v13M684 195v5M684 203v31M684 235v9M684 245v6M684 256v23M684 282v3M684 291v6M684 298v3M684 302v3M684 306v25M684 335v7M684 346v6M684 364v6M684 371v5M685 106v4M685 112v16M685 130v6M685 137v38M685 176v17M685 195v5M685 204v51M685 256v16M685 274v23M685 298v32M685 335v10M685 346v6M685 364v6M685 371v2M686 101v9M686 112v19M686 133v3M686 137v27M686 169v2M686 172v68M686 242v30M686 275v25M686 301v14M686 319v7M686 335v5M686 342v3M686 372v3M687 107v24M687 140v5M687 146v19M687 166v53M687 220v7M687 230v9M687 241v44M687 286v20M687 308v8M687 319v7M687 372v3M688 105v20M688 139v8M688 148v35M688 185v44M688 230v7M688 239v54M688 294v12M688 308v8M688 319v15M688 340v5M689 102v2M689 105v17M689 123v2M689 131v26M689 159v12M689 176v15M689 192v13M689 206v83M689 290v6M689 297v9M689 308v8M689 318v16M689 340v10M689 372v3M690 90v3M690 97v3M690 102v7M690 113v11M690 127v17M690 146v13M690 163v6M690 177v14M690 193v46M690 246v5M690 252v22M690 276v10M690 287v9M690 297v9M690 308v7M690 318v9M690 329v5M690 340v7M690 353v6M690 372v3M691 90v3M691 95v4M691 103v6M691 113v31M691 146v13M691 160v9M691 171v5M691 178v6M691 185v7M691 193v49M691 251v4M691 256v50M691 308v6M691 315v19M691 337v3M691 342v4M691 355v4M692 85v3M692 90v3M692 95v16M692 112v28M692 143v3M692 148v7M692 157v19M692 177v20M692 198v18M692 218v32M692 251v9M692 261v28M692 290v13M692 304v2M692 308v4M692 315v19M692 341v6M692 363v6M692 375v2M692 380v3M692 385v2M693 85v5M693 91v2M693 94v17M693 112v20M693 133v47M693 184v12M693 199v2M693 202v19M693 225v25M693 251v56M693 308v12M693 321v9M693 339v8M693 365v4M693 375v2M693 380v3M694 78v6M694 85v21M694 107v25M694 133v63M694 197v4M694 203v21M694 227v8M694 236v2M694 240v10M694 251v3M694 256v30M694 288v27M694 316v3M694 320v3M694 325v10M694 337v3M694 341v6M694 348v7M695 78v6M695 85v85M695 171v4M695 177v23M695 202v14M695 217v13M695 231v44M695 277v9M695 288v31M695 320v4M695 325v10M695 337v6M695 348v8M696 85v68M696 154v52M696 207v9M696 217v25M696 244v39M696 284v9M696 298v5M696 305v14M696 320v4M696 325v5M696 338v5M696 348v8M697 79v13M697 97v6M697 104v13M697 118v5M697 126v4M697 132v2M697 135v11M697 147v16M697 168v28M697 197v17M697 217v16M697 236v3M697 241v9M697 254v39M697 297v6M697 309v7M697 322v2M697 326v4M697 333v3M697 351v5M698 67v3M698 72v3M698 79v16M698 105v12M698 120v2M698 125v10M698 136v8M698 147v16M698 164v51M698 218v20M698 241v9M698 252v27M698 280v13M698 296v12M698 311v5M698 317v4M698 331v5M698 346v3M698 362v3M699 65v5M699 71v6M699 78v13M699 92v8M699 105v37M699 145v5M699 151v46M699 198v19M699 218v4M699 223v26M699 251v27M699 280v6M699 289v27M699 325v3M699 331v5M699 337v2M699 346v3M699 362v3M700 60v7M700 71v9M700 81v10M700 94v6M700 103v25M700 129v13M700 144v12M700 158v51M700 211v6M700 218v14M700 233v17M700 251v11M700 266v3M700 270v15M700 288v31M700 325v14M700 346v4M700 354v2M701 60v8M701 71v20M701 94v6M701 103v4M701 116v5M701 122v19M701 143v14M701 158v95M701 254v2M701 259v27M701 287v32M701 325v12M701 348v2M701 354v2M701 366v5M702 66v12M702 79v13M702 94v7M702 103v8M702 115v13M702 132v25M702 159v24M702 186v36M702 223v33M702 260v13M702 278v14M702 293v28M702 326v11M702 348v2M702 362v9M703 66v12M703 79v22M703 103v22M703 126v31M703 159v6M703 167v2M703 172v6M703 186v12M703 199v17M703 217v5M703 223v28M703 252v20M703 273v5M703 281v10M703 295v11M703 307v14M703 336v6M703 344v6M703 362v9M704 61v27M704 89v11M704 106v18M704 125v16M704 142v11M704 159v19M704 185v5M704 191v5M704 197v25M704 223v67M704 292v14M704 307v11M704 319v6M704 343v6M704 356v3M704 362v8M704 372v4M704 382v5M705 61v15M705 78v8M705 87v2M705 90v9M705 102v25M705 128v9M705 141v81M705 223v47M705 271v28M705 300v14M705 315v12M705 330v5M705 341v8M705 356v3M705 363v7M705 372v4M705 382v5M706 51v5M706 59v11M706 71v5M706 78v4M706 83v9M706 93v14M706 108v17M706 127v10M706 144v60M706 205v112M706 320v7M706 330v4M706 341v3M706 358v3M706 363v7M707 51v25M707 78v2M707 85v10M707 97v11M707 117v8M707 126v17M707 145v25M707 171v33M707 205v42M707 249v2M707 253v2M707 256v32M707 294v7M707 302v5M707 308v19M707 329v7M707 342v3M707 346v6M707 358v3M707 366v3M708 54v7M708 62v4M708 67v9M708 80v16M708 97v15M708 119v27M708 149v11M708 165v11M708 177v32M708 213v34M708 250v39M708 290v8M708 302v6M708 309v14M708 325v2M708 329v7M708 342v10M708 358v4M708 366v3M709 46v6M709 54v7M709 62v7M709 70v5M709 77v19M709 97v33M709 131v25M709 160v4M709 166v9M709 177v9M709 188v21M709 211v36M709 250v6M709 258v18M709 277v42M709 320v3M709 329v12M709 343v9M709 359v3M709 365v4M710 54v3M710 72v30M710 103v7M710 111v17M710 129v40M710 170v9M710 181v43M710 226v34M710 264v13M710 279v3M710 283v29M710 318v6M710 329v2M710 333v3M710 340v4M710 365v4M711 59v11M711 72v31M711 104v4M711 112v57M711 174v5M711 181v29M711 211v3M711 217v10M711 229v6M711 237v20M711 263v29M711 299v6M711 306v6M711 313v4M711 318v11M711 332v6M711 340v4M711 346v3M711 351v4M711 365v4M712 44v5M712 53v32M712 86v9M712 96v12M712 109v12M712 122v15M712 139v5M712 153v48M712 202v8M712 212v3M712 216v64M712 282v5M712 290v5M712 299v6M712 308v3M712 312v2M712 317v13M712 332v6M712 346v3M712 351v4M713 43v19M713 67v8M713 76v7M713 85v3M713 91v6M713 99v13M713 114v6M713 122v20M713 143v58M713 203v4M713 208v3M713 212v33M713 246v18M713 265v15M713 282v6M713 290v5M713 296v2M713 299v7M713 308v3M713 312v2M713 317v2M713 320v4M713 325v5M713 332v6M713 339v6M713 346v3M714 34v3M714 38v3M714 43v10M714 55v2M714 58v23M714 82v6M714 92v50M714 143v15M714 159v37M714 197v2M714 203v3M714 207v4M714 215v49M714 265v17M714 283v15M714 299v5M714 307v12M714 321v6M714 333v4M714 339v6M714 349v4M714 366v4M715 34v3M715 47v6M715 55v2M715 58v12M715 75v16M715 92v3M715 97v61M715 159v16M715 176v20M715 197v2M715 203v23M715 227v13M715 241v23M715 265v37M715 303v15M715 321v6M715 333v4M715 339v4M715 349v4M715 366v7M716 42v10M716 55v2M716 58v3M716 62v8M716 75v20M716 100v5M716 108v46M716 157v16M716 179v8M716 189v7M716 197v5M716 203v23M716 229v12M716 242v29M716 273v38M716 313v5M716 321v6M716 331v9M716 369v4M716 376v4M717 32v8M717 42v10M717 54v7M717 64v2M717 72v27M717 100v71M717 173v33M717 207v4M717 213v48M717 262v17M717 282v21M717 306v6M717 313v6M717 321v19M717 369v3M718 32v9M718 42v9M718 54v14M718 72v3M718 77v22M718 100v45M718 147v24M718 175v17M718 195v23M718 220v32M718 253v18M718 272v7M718 281v5M718 288v8M718 297v22M718 326v14M718 341v3M718 355v6M718 369v3M718 382v3M719 32v9M719 42v9M719 54v14M719 72v3M719 77v12M719 91v8M719 100v4M719 107v6M719 114v11M719 126v7M719 134v11M719 148v16M719 175v17M719 195v5M719 202v16M719 223v16M719 240v12M719 253v12M719 266v5M719 272v3M719 276v3M719 281v5M719 288v5M719 297v3M719 303v3M719 311v8M719 341v3M719 355v6M719 382v3" stroke="#00ff00" stroke-width="1" fill="none" shape-rendering="crispEdges"/></g>
<polyline points="311.5,366.2 348.4,352.7 374.5,343.0 377.8,339.8 401.0,330.4 415.7,324.5 417.5,322.7 432.6,316.8 440.0,314.9 452.1,310.3 470.3,302.1 492.1,295.4 493.9,292.4 507.8,286.3 530.1,276.0 532.8,271.5 551.8,263.2 562.7,252.3 581.4,242.2 587.6,237.5 589.2,233.6 600.9,223.5 612.6,213.4 614.5,209.2 620.0,202.8 627.3,195.8 636.0,185.3 644.6,174.0 654.1,161.9 657.6,152.4 661.9,145.5 668.8,137.7 678.1,124.9 679.3,118.7 681.8,111.7 685.9,106.3 693.5,91.1 698.2,82.0 700.3,76.0 701.2,69.5 703.0,67.3 710.7,53.0 716.4,38.8 721.7,22.6" fill="none" stroke="#2a2a2a" stroke-width="1.1"/>
<text transform="translate(132.1,493.4) scale(1,1.075)" font-size="36.6" text-anchor="end">0</text><text transform="translate(132.1,435.7) scale(1,1.075)" font-size="36.6" text-anchor="end">1000</text><text transform="translate(132.1,378.0) scale(1,1.075)" font-size="36.6" text-anchor="end">2000</text><text transform="translate(132.1,320.3) scale(1,1.075)" font-size="36.6" text-anchor="end">3000</text><text transform="translate(132.1,262.6) scale(1,1.075)" font-size="36.6" text-anchor="end">4000</text><text transform="translate(132.1,205.0) scale(1,1.075)" font-size="36.6" text-anchor="end">5000</text><text transform="translate(132.1,147.3) scale(1,1.075)" font-size="36.6" text-anchor="end">6000</text><text transform="translate(132.1,89.6) scale(1,1.075)" font-size="36.6" text-anchor="end">7000</text><text transform="translate(132.1,31.9) scale(1,1.075)" font-size="36.6" text-anchor="end">8000</text><text transform="translate(146.7,525.6) scale(1,1.05)" font-size="37" text-anchor="middle">0.0</text><text transform="translate(228.8,525.6) scale(1,1.05)" font-size="37" text-anchor="middle">0.1</text><text transform="translate(310.8,525.6) scale(1,1.05)" font-size="37" text-anchor="middle">0.2</text><text transform="translate(392.9,525.6) scale(1,1.05)" font-size="37" text-anchor="middle">0.3</text><text transform="translate(474.9,525.6) scale(1,1.05)" font-size="37" text-anchor="middle">0.4</text><text transform="translate(557.0,525.6) scale(1,1.05)" font-size="37" text-anchor="middle">0.5</text><text transform="translate(639.1,525.6) scale(1,1.05)" font-size="37" text-anchor="middle">0.6</text><text transform="translate(721.1,525.6) scale(1,1.05)" font-size="37" text-anchor="middle">0.7</text><text transform="translate(803.2,525.6) scale(1,1.05)" font-size="37" text-anchor="middle">0.8</text>
<text x="475.6" y="566.7" font-size="37.1" text-anchor="middle">Displacement/mm</text>
<text transform="translate(30.6,257) rotate(-90)" font-size="37.4" text-anchor="middle">Load/N</text>
<line x1="280" y1="94.2" x2="346" y2="94.2" stroke="#4d4d4d" stroke-width="1.2"/>
<rect x="342" y="132.6" width="4.6" height="1.8" rx="0.8" fill="#00ff00"/>
<line x1="280" y1="168.6" x2="346" y2="168.6" stroke="#ff3030" stroke-width="1.7"/>
<g font-size="29.0" style="font-kerning:none"><text x="353.5" y="103.6">Without vibration</text>
<text x="353.4" y="142.6">f=28kHz, A=5<tspan x="524.8">μ</tspan><tspan x="542.4">m</tspan></text>
<text x="352.8" y="178.6">Averaged</text></g>
</svg>
</body></html>
